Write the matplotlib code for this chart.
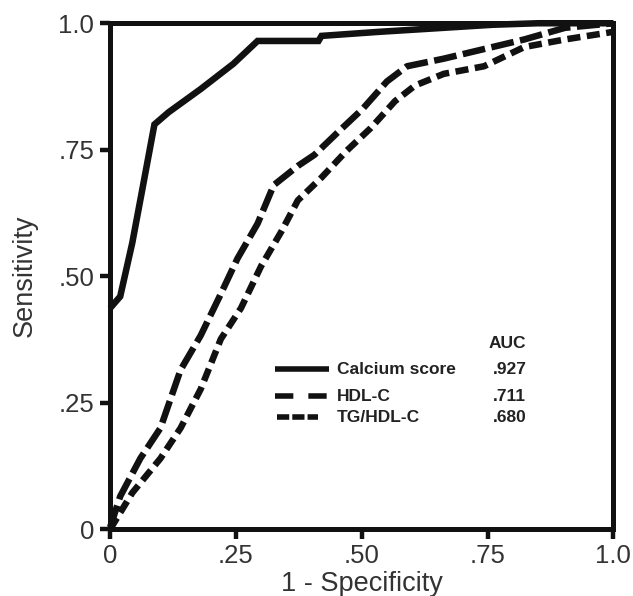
import matplotlib
matplotlib.use("Agg")
import matplotlib.pyplot as plt

plt.rcParams['font.family'] = ['Liberation Sans', 'DejaVu Sans']

# ROC curves (1 - specificity, sensitivity)
calcium_x = [0.0, 0.02, 0.044, 0.064, 0.088, 0.116, 0.18, 0.245, 0.293, 0.414, 0.42, 0.534, 0.647, 0.76, 0.85, 1.0]
calcium_y = [0.437, 0.46, 0.566, 0.672, 0.80, 0.824, 0.87, 0.92, 0.965, 0.965, 0.975, 0.983, 0.99, 0.997, 1.0, 1.0]

hdl_x = [0.0, 0.02, 0.06, 0.10, 0.14, 0.18, 0.217, 0.253, 0.293, 0.325, 0.373, 0.406, 0.454, 0.502, 0.55,
         0.59, 0.663, 0.743, 0.823, 0.904, 1.0]
hdl_y = [0.004, 0.065, 0.14, 0.20, 0.315, 0.383, 0.459, 0.535, 0.604, 0.68, 0.718, 0.74, 0.786, 0.831, 0.885,
         0.915, 0.93, 0.949, 0.968, 0.991, 1.0]

tg_x = [0.0, 0.044, 0.10, 0.14, 0.18, 0.22, 0.26, 0.30, 0.34, 0.373, 0.42, 0.47, 0.518, 0.566, 0.606,
        0.663, 0.743, 0.823, 0.904, 1.0]
tg_y = [0.0, 0.072, 0.14, 0.20, 0.277, 0.376, 0.437, 0.52, 0.588, 0.65, 0.695, 0.748, 0.793, 0.846, 0.877,
        0.90, 0.915, 0.953, 0.968, 0.983]

series_names = ["Calcium score", "HDL-C", "TG/HDL-C"]
auc_values = [".927", ".711", ".680"]

tick_values = [0, 0.25, 0.5, 0.75, 1.0]
tick_labels = ["0", ".25", ".50", ".75", "1.0"]

fig = plt.figure(figsize=(6.33, 5.96), dpi=100)
ax = fig.add_axes([0.174, 0.112, 0.795, 0.849])

curve_lw = 4.7
curve_styles = ['-', (0, (3.5, 1.0)), (0, (2.0, 1.0))]
curves = [(calcium_x, calcium_y), (hdl_x, hdl_y), (tg_x, tg_y)]
for (xs, ys), ls in zip(curves, curve_styles):
    ax.plot(xs, ys, color='#111111', lw=curve_lw, ls=ls, solid_capstyle='butt',
            dash_capstyle='butt', solid_joinstyle='miter', clip_on=False)

ax.set_xlim(0, 1)
ax.set_ylim(0, 1)
ax.set_xticks(tick_values)
ax.set_xticklabels(tick_labels)
ax.set_yticks(tick_values)
ax.set_yticklabels(tick_labels)
for s in ax.spines.values():
    s.set_linewidth(3.6)
    s.set_color('#111111')
ax.tick_params(direction='out', length=7.5, width=3.2, labelsize=18.5, pad=3,
               colors='#111111', labelcolor='#333333')
ax.tick_params(axis='y', pad=4)
ax.set_xlabel("1 - Specificity", fontsize=19.5, labelpad=2.5, color='#333333')
ax.set_ylabel("Sensitivity", fontsize=19.5, labelpad=15, color='#333333')

# legend drawn by hand with an AUC column
legend_lw = 4.0
legend_styles = ['-', (0, (3.3, 2.7)), (0, (2.2, 0.55))]
rows_y = [0.316, 0.263, 0.221]
line_x = [(0.328, 0.435), (0.328, 0.431), (0.332, 0.414)]
for name, auc, yy, (x0, x1), ls in zip(series_names, auc_values, rows_y, line_x, legend_styles):
    ax.plot([x0, x1], [yy, yy], color='#111111', lw=legend_lw, ls=ls, transform=ax.transAxes,
            solid_capstyle='butt', dash_capstyle='butt')
    ax.text(0.451, yy, name, transform=ax.transAxes, fontsize=12.5, fontweight='bold',
            va='center', ha='left', color='#222222')
    ax.text(0.827, yy, auc, transform=ax.transAxes, fontsize=12.5, fontweight='bold',
            va='center', ha='right', color='#222222')
ax.text(0.827, 0.368, "AUC", transform=ax.transAxes, fontsize=12.5, fontweight='bold',
        va='center', ha='right', color='#222222')

fig.savefig("out.png", dpi=100)
